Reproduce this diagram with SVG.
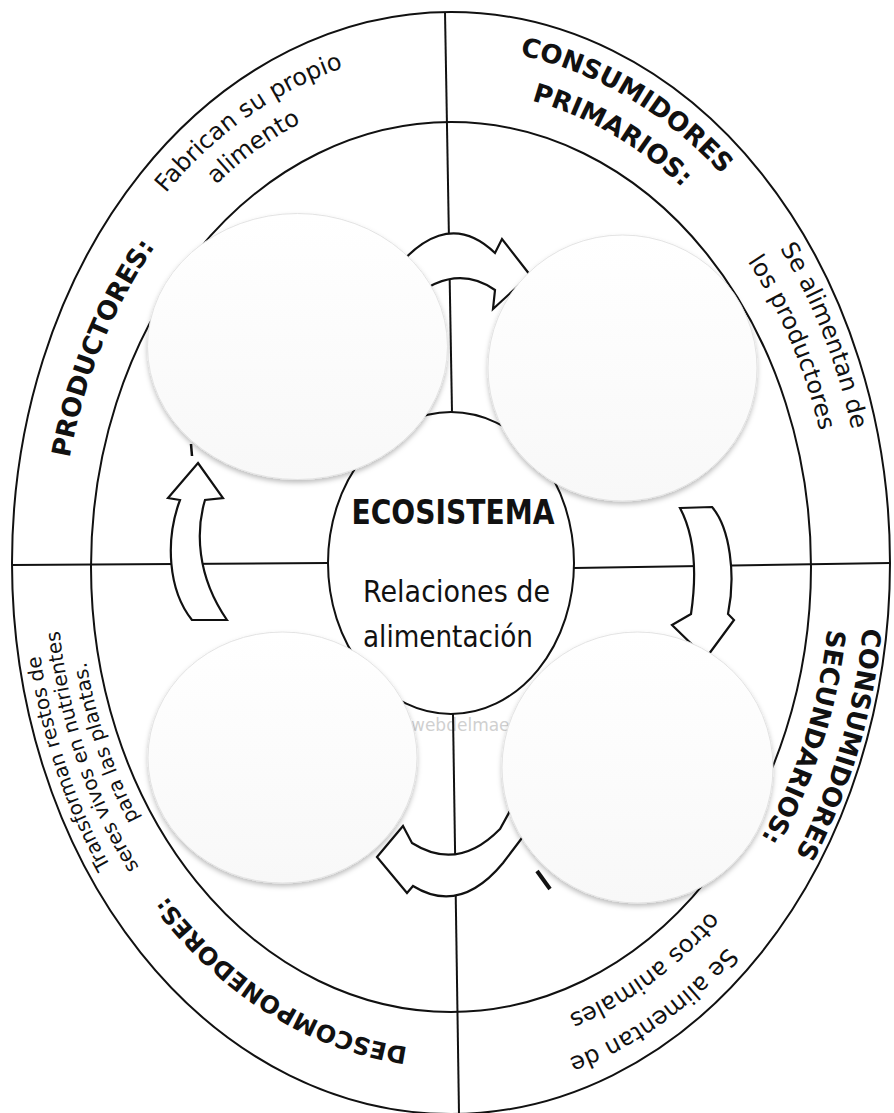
<svg xmlns="http://www.w3.org/2000/svg" width="894" height="1113" viewBox="0 0 894 1113">
<style>
.ln{fill:none;stroke:#111;stroke-width:2}
.arw{fill:#fff;stroke:#111;stroke-width:2.2;stroke-linejoin:miter}
.blob{fill:url(#bg);stroke:#e3e3e3;stroke-width:1;filter:url(#sh)}
.t{font-family:'DejaVu Sans',Verdana,sans-serif;fill:#111}
.r{font-size:24px}
.b{font-size:26px;font-weight:bold}
.b2{font-size:24px;font-weight:bold}
.s{font-size:20px}
.wm{font-family:'DejaVu Sans',sans-serif;font-size:17px;fill:#d0d0d0}
</style>
<defs>
<linearGradient id="bg" x1="0" y1="0" x2="0" y2="1"><stop offset="0" stop-color="#ffffff"/><stop offset="1" stop-color="#f8f8f8"/></linearGradient>
<filter id="sh" x="-10%" y="-10%" width="125%" height="125%"><feDropShadow dx="0" dy="3" stdDeviation="2.5" flood-color="#000" flood-opacity="0.25"/></filter>
<path id="p1" d="M118.5,260.8 A412,515 0 0 1 423.7,51.1"/>
<path id="p2" d="M138.3,284.9 A385,480 0 0 1 422.1,86.3"/>
<path id="p3" d="M60.3,545.5 A391,487 0 0 1 211.9,179.7"/>
<path id="p4" d="M448.9,48 A413,517 0 0 1 766,230.6"/>
<path id="p5" d="M445,90 A381,475 0 0 1 739,254"/>
<path id="p6" d="M706.5,156 A415,519 0 0 1 865.8,546.9"/>
<path id="p7" d="M679.4,180.7 A384,478 0 0 1 834.3,535.8"/>
<path id="p8" d="M864.9,527.9 A415,519 0 0 1 739.8,937.7"/>
<path id="p9" d="M830.5,540.3 A380,473 0 0 1 710.2,910.9"/>
<path id="p10" d="M782.6,870.6 A412,515 0 0 1 476.9,1079"/>
<path id="p11" d="M761.1,838.3 A380,473 0 0 1 482.1,1036.4"/>
<path id="p12" d="M478.2,1048.8 A389,485 0 0 1 128.5,836.2"/>
<path id="p13" d="M173.1,953.4 A417,521 0 0 1 34.2,548.6"/>
<path id="p14" d="M187.7,932.5 A395,493 0 0 1 56.2,549.5"/>
<path id="p15" d="M202.4,910.9 A373,464 0 0 1 78.2,550.4"/>
</defs>
<rect width="894" height="1113" fill="#fff"/>
<text class="wm" x="411" y="731">webdelmaestrocmf.com</text>
<g id="ring">
<ellipse class="ln" cx="451" cy="563" rx="439" ry="551"/>
<ellipse class="ln" cx="451" cy="567" rx="360" ry="445"/>
<line class="ln" x1="445" y1="12" x2="452" y2="412"/>
<line class="ln" x1="453" y1="714" x2="459" y2="1114"/>
<line class="ln" x1="12" y1="565" x2="328" y2="563"/>
<line class="ln" x1="574" y1="568" x2="890" y2="563"/>
</g>
<g id="label-productores">
<text class="t r"><textPath href="#p1" startOffset="50%" text-anchor="middle">Fabrican su propio</textPath></text>
<text class="t r"><textPath href="#p2" startOffset="50%" text-anchor="middle">alimento</textPath></text>
<text class="t b"><textPath href="#p3" startOffset="50%" text-anchor="middle">PRODUCTORES:</textPath></text>
</g>
<g id="label-primarios">
<text class="t b"><textPath href="#p4" startOffset="50%" text-anchor="middle">CONSUMIDORES</textPath></text>
<text class="t b"><textPath href="#p5" startOffset="50%" text-anchor="middle">PRIMARIOS:</textPath></text>
<text class="t r"><textPath href="#p6" startOffset="50%" text-anchor="middle">Se alimentan de</textPath></text>
<text class="t r"><textPath href="#p7" startOffset="50%" text-anchor="middle">los productores</textPath></text>
</g>
<g id="label-secundarios">
<text class="t b"><textPath href="#p8" startOffset="50%" text-anchor="middle">CONSUMIDORES</textPath></text>
<text class="t b"><textPath href="#p9" startOffset="50%" text-anchor="middle">SECUNDARIOS:</textPath></text>
<text class="t r"><textPath href="#p10" startOffset="50%" text-anchor="middle">Se alimentan de</textPath></text>
<text class="t r"><textPath href="#p11" startOffset="50%" text-anchor="middle">otros animales</textPath></text>
</g>
<g id="label-descomponedores">
<text class="t b2"><textPath href="#p12" startOffset="50%" text-anchor="middle">DESCOMPONEDORES:</textPath></text>
<text class="t s"><textPath href="#p13" startOffset="50%" text-anchor="middle">Transforman restos de</textPath></text>
<text class="t s"><textPath href="#p14" startOffset="50%" text-anchor="middle">seres vivos en nutrientes</textPath></text>
<text class="t s"><textPath href="#p15" startOffset="50%" text-anchor="middle">para las plantas.</textPath></text>
</g>
<g id="center">
<ellipse class="ln" cx="451" cy="563" rx="123" ry="151"/>
<text class="t" x="453" y="524" font-size="33" font-weight="bold" text-anchor="middle" textLength="203" lengthAdjust="spacingAndGlyphs">ECOSISTEMA</text>
<text class="t" x="363" y="602" font-size="30" textLength="187" lengthAdjust="spacingAndGlyphs">Relaciones de</text>
<text class="t" x="363" y="647" font-size="30" textLength="170" lengthAdjust="spacingAndGlyphs">alimentación</text>
</g>
<g id="connectors">
<path class="arw" d="M380,290 Q440,200 495,253 L502,239 L530,275 L493,309 L495,290 Q455,262 410,300 Z"/>
<path class="arw" d="M680,508 L712,507 C730,528 736,575 728,614 L734,620 L706,658 L672,625 L691,614 C696,580 697,540 680,508 Z"/>
<path class="arw" d="M377,857 L403,826 L412,843 Q458,872 500,829 L516,800 L528,830 L503,863 Q460,915 413,886 L407,893 Z"/>
<path class="arw" d="M198,463 L223,498 L205,500 C196,530 196,575 227,620 L192,620 C168,590 165,540 180,500 L168,498 Z"/>
<line x1="191" y1="444" x2="192" y2="456" stroke="#111" stroke-width="2.5"/>
<line x1="537" y1="871" x2="550" y2="889" stroke="#111" stroke-width="4"/>
</g>
<g id="node-productores"><ellipse class="blob" cx="297.5" cy="346.5" rx="150" ry="133"/></g>
<g id="node-primarios"><ellipse class="blob" cx="622.5" cy="368" rx="134.5" ry="133"/></g>
<g id="node-descomponedores"><ellipse class="blob" cx="282.5" cy="757.5" rx="134.5" ry="125.5"/></g>
<g id="node-secundarios"><ellipse class="blob" cx="637.5" cy="767.5" rx="135.5" ry="135.5"/></g>
</svg>
